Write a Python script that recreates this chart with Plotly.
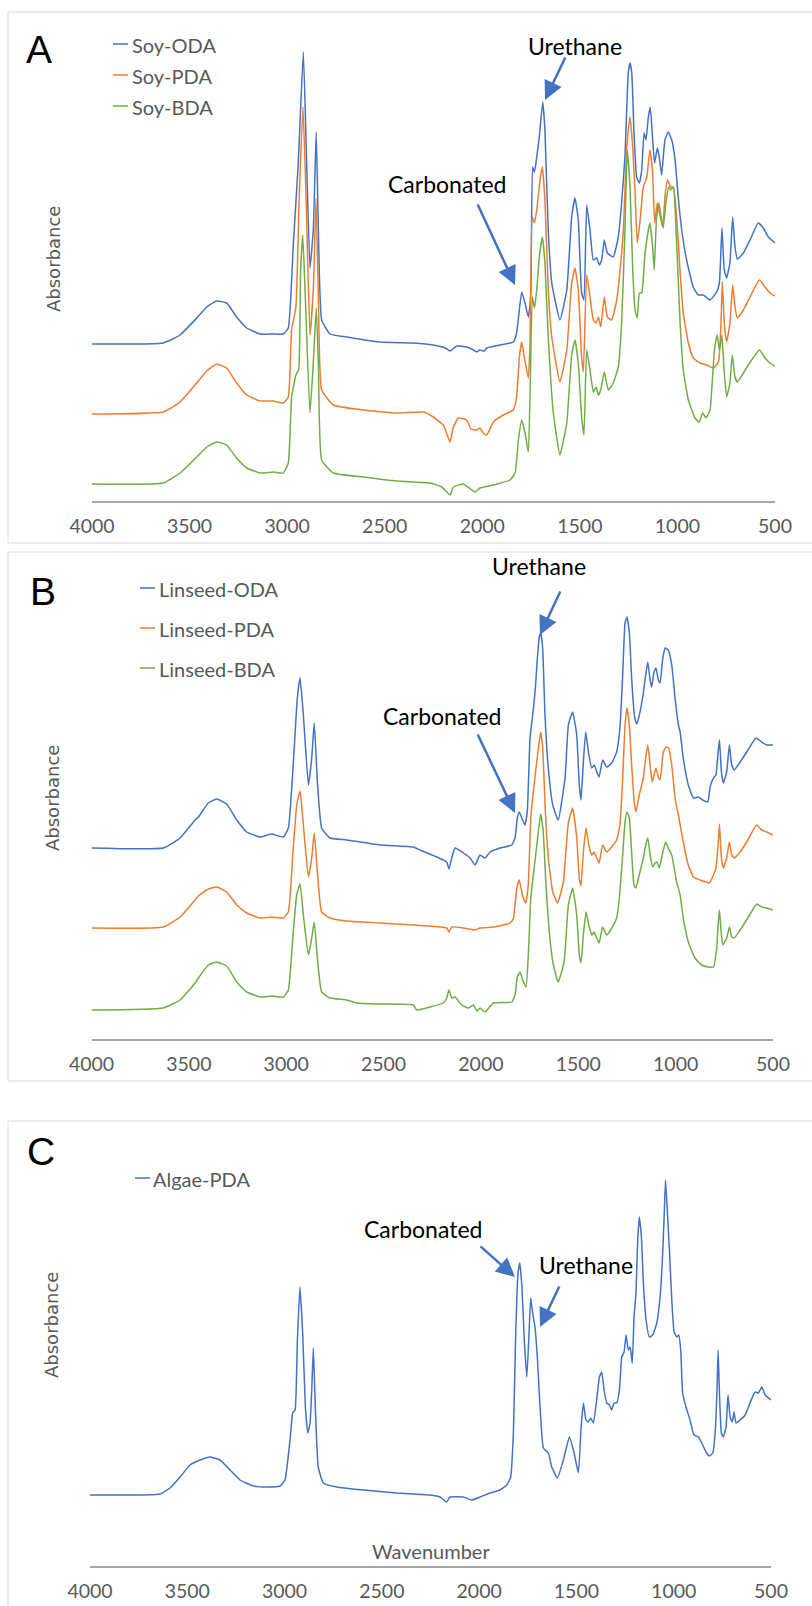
import plotly.graph_objects as go

# ---------------- data (wavenumber cm-1, absorbance in arbitrary units) -------------
SOY_ODA = [(4000,157),(3635,158),(3549,166),(3463,183),(3412,194),(3361,200),(3310,198),(3259,184),
 (3207,173),(3139,167),(3071,167),(3020,167),(2994,173),(2968,258),(2943,338),(2917,449),(2900,338),
 (2883,233),(2866,271),(2851,369),(2840,271),(2823,181),(2780,167),(2695,164),(2524,159),(2353,158),
 (2251,156),(2190,153),(2165,150),(2131,155),(2080,154),(2045,151),(2029,149),(2012,151),(1990,150),
 (1977,153),(1909,156),(1841,159),(1824,168),(1798,209),(1781,198),(1764,184),(1752,204),(1742,334),
 (1733,329),(1725,338),(1708,364),(1690,399),(1679,371),(1662,271),(1644,218),(1602,181),(1567,211),
 (1542,284),(1525,303),(1508,281),(1491,208),(1479,201),(1465,296),(1448,271),(1431,241),(1414,243),
 (1400,236),(1388,241),(1375,261),(1359,248),(1329,244),(1303,264),(1286,298),(1269,344),(1252,428),
 (1243,438),(1234,428),(1223,371),(1209,324),(1195,318),(1183,331),(1171,368),(1161,361),(1149,384),
 (1139,394),(1127,361),(1117,338),(1103,353),(1093,344),(1081,326),(1064,361),(1047,369),(1029,361),
 (1012,341),(996,304),(978,271),(953,241),(919,214),(893,206),(867,206),(833,201),(799,209),(785,218),
 (772,273),(760,231),(748,223),(731,238),(717,284),(705,254),(693,242),(662,248),(628,261),(586,278),
 (560,273),(534,264),(500,258)]

SOY_PDA = [(4000,87),(3635,89),(3549,99),(3463,118),(3412,130),(3361,137),(3310,133),(3259,118),
 (3207,106),(3139,100),(3071,100),(3020,98),(2994,104),(2977,171),(2955,194),(2938,304),(2919,394),
 (2903,304),(2883,166),(2866,211),(2852,303),(2840,204),(2823,111),(2763,96),(2610,91),(2439,88),
 (2300,89),(2251,84),(2200,76),(2165,59),(2148,74),(2123,83),(2080,81),(2058,72),(2029,71),(2012,73),
 (1995,68),(1977,66),(1943,79),(1892,86),(1841,91),(1824,104),(1810,144),(1798,159),(1785,144),
 (1764,123),(1756,154),(1744,284),(1733,278),(1721,291),(1704,321),(1692,334),(1679,301),(1662,211),
 (1644,164),(1602,119),(1567,151),(1542,218),(1525,233),(1508,211),(1491,144),(1482,129),(1465,226),
 (1448,204),(1431,181),(1417,178),(1405,184),(1393,174),(1375,204),(1359,184),(1337,181),(1311,201),
 (1294,231),(1277,271),(1260,354),(1243,384),(1229,354),(1217,308),(1206,258),(1192,279),(1175,314),
 (1157,324),(1141,351),(1127,328),(1117,278),(1103,298),(1093,289),(1076,274),(1062,308),(1050,321),
 (1035,314),(1021,314),(1004,284),(987,231),(970,188),(944,158),(919,143),(884,138),(850,136),
 (816,133),(790,139),(778,171),(770,219),(760,178),(748,159),(731,178),(717,216),(705,194),(693,183),
 (662,191),(628,204),(580,221),(551,214),(526,208),(500,205)]

SOY_BDA = [(4000,17),(3635,18),(3549,28),(3463,44),(3412,54),(3361,59),(3310,56),(3259,43),(3207,33),
 (3139,28),(3071,29),(3020,28),(2994,38),(2977,104),(2955,126),(2941,131),(2931,231),(2920,266),
 (2907,204),(2883,88),(2866,138),(2851,193),(2840,138),(2823,41),(2763,28),(2610,24),(2439,20),
 (2268,18),(2208,14),(2165,6),(2148,14),(2097,17),(2037,9),(2012,13),(1943,16),(1858,21),(1832,28),
 (1815,61),(1798,81),(1781,68),(1764,49),(1752,138),(1744,204),(1733,193),(1721,211),(1708,244),
 (1692,264),(1679,238),(1662,164),(1636,88),(1602,46),(1567,78),(1542,146),(1525,161),(1508,138),
 (1491,84),(1479,66),(1465,151),(1448,131),(1431,109),(1417,114),(1405,106),(1393,111),(1375,129),
 (1354,111),(1329,118),(1303,134),(1286,178),(1269,271),(1257,351),(1243,314),(1229,231),(1217,191),
 (1206,183),(1195,208),(1183,208),(1166,248),(1149,271),(1141,278),(1127,254),(1119,231),(1107,284),
 (1095,298),(1081,281),(1073,273),(1059,298),(1045,314),(1035,311),(1021,314),(1004,258),(987,181),
 (970,131),(944,101),(910,83),(888,79),(871,88),(854,83),(833,91),(821,121),(809,154),(796,166),
 (785,151),(778,159),(772,166),(762,134),(748,104),(731,118),(719,146),(705,124),(693,119),(662,128),
 (620,141),(580,151),(551,143),(526,138),(500,135)]

LIN_ODA = [(4000,191),(3631,191),(3545,201),(3468,219),(3451,222),(3400,236),(3357,240),(3306,235),
 (3254,219),(3203,207),(3135,202),(3075,205),(3015,202),(2989,211),(2964,274),(2943,341),(2929,361),
 (2912,324),(2886,254),(2869,281),(2856,316),(2840,257),(2818,211),(2775,201),(2689,199),(2518,194),
 (2347,192),(2313,189),(2227,182),(2176,177),(2164,170),(2150,181),(2133,191),(2090,186),(2056,181),
 (2030,174),(2005,184),(1979,181),(1953,187),(1902,191),(1842,194),(1825,201),(1813,221),(1803,227),
 (1790,221),(1774,214),(1762,227),(1748,301),(1734,324),(1722,347),(1710,381),(1700,402),(1693,406),
 (1683,391),(1671,324),(1654,271),(1631,234),(1603,219),(1568,261),(1551,314),(1529,327),(1508,304),
 (1495,254),(1486,239),(1474,277),(1462,307),(1448,287),(1431,271),(1418,274),(1405,267),(1393,262),
 (1375,279),(1354,272),(1328,276),(1303,287),(1286,311),(1272,364),(1260,416),(1250,422),(1238,407),
 (1226,361),(1212,324),(1200,315),(1183,327),(1166,346),(1154,364),(1143,377),(1131,359),(1123,352),
 (1111,367),(1101,371),(1089,359),(1080,356),(1066,381),(1053,391),(1038,389),(1020,374),(1003,341),
 (986,314),(977,307),(961,281),(935,254),(909,241),(884,242),(861,239),(835,237),(823,252),(806,261),
 (793,264),(782,287),(775,299),(765,267),(755,256),(738,267),(724,294),(712,274),(699,269),(669,277),
 (635,287),(587,301),(558,297),(532,294),(500,294)]

LIN_PDA = [(4000,111),(3631,112),(3545,122),(3468,139),(3451,143),(3400,150),(3357,152),(3306,147),
 (3254,134),(3203,126),(3135,121),(3075,122),(3015,121),(2989,127),(2964,191),(2946,234),(2929,248),
 (2912,214),(2886,162),(2869,181),(2856,206),(2840,167),(2818,127),(2775,121),(2689,118),(2518,116),
 (2347,114),(2176,111),(2164,107),(2150,112),(2090,111),(2030,109),(2005,111),(1936,112),(1850,116),
 (1833,121),(1816,151),(1803,159),(1787,144),(1770,136),(1757,154),(1744,221),(1731,247),(1717,271),
 (1703,294),(1693,307),(1683,292),(1669,227),(1654,181),(1631,147),(1606,136),(1577,157),(1551,216),
 (1529,231),(1508,201),(1495,161),(1486,153),(1474,187),(1460,211),(1446,194),(1431,184),(1419,187),
 (1405,181),(1393,176),(1375,194),(1354,187),(1328,192),(1303,199),(1286,214),(1272,261),(1260,314),
 (1250,331),(1238,314),(1226,274),(1212,236),(1204,227),(1187,244),(1166,261),(1154,281),(1143,294),
 (1131,274),(1121,257),(1111,264),(1101,271),(1089,262),(1080,259),(1063,287),(1049,292),(1036,291),
 (1020,274),(1003,241),(983,221),(961,197),(935,174),(909,162),(875,159),(844,157),(827,156),(806,164),
 (793,171),(782,194),(775,215),(765,181),(755,171),(738,181),(724,197),(712,184),(699,181),(669,187),
 (635,197),(584,214),(558,209),(532,207),(500,204)]

LIN_BDA = [(4000,29),(3631,31),(3545,39),(3468,56),(3451,61),(3400,74),(3357,77),(3306,73),(3254,57),
 (3203,47),(3135,42),(3075,43),(3015,42),(2989,49),(2964,107),(2946,144),(2929,155),(2912,124),
 (2886,84),(2869,101),(2856,117),(2840,81),(2818,47),(2775,41),(2689,39),(2638,36),(2518,35),(2347,34),
 (2330,29),(2261,32),(2193,36),(2176,41),(2164,49),(2150,41),(2133,42),(2099,34),(2065,31),(2039,34),
 (2020,28),(2005,31),(1979,27),(1936,36),(1842,37),(1825,44),(1813,62),(1799,67),(1786,59),(1768,52),
 (1755,91),(1744,141),(1731,164),(1717,187),(1703,211),(1693,225),(1680,207),(1666,154),(1649,107),
 (1628,74),(1603,57),(1573,77),(1551,134),(1529,151),(1508,124),(1495,84),(1486,76),(1474,104),
 (1460,127),(1446,114),(1431,104),(1419,107),(1405,101),(1393,96),(1375,112),(1354,104),(1328,111),
 (1303,121),(1289,141),(1272,184),(1260,217),(1250,227),(1238,221),(1226,187),(1214,154),(1204,151),
 (1187,164),(1166,181),(1154,194),(1143,201),(1131,184),(1117,172),(1106,176),(1097,177),(1084,171),
 (1066,187),(1051,197),(1038,191),(1020,184),(995,157),(977,144),(961,121),(935,97),(901,81),(867,74),
 (833,72),(806,72),(789,91),(782,114),(775,129),(768,111),(758,94),(738,101),(724,112),(712,102),
 (699,101),(669,109),(626,122),(584,135),(558,132),(532,131),(500,129)]

ALG_PDA = [(4000,71),(3640,72),(3589,78),(3537,89),(3486,101),(3435,106),(3383,109),(3332,106),
 (3280,96),(3229,86),(3161,80),(3092,79),(3023,80),(2998,86),(2972,126),(2958,153),(2946,156),
 (2934,226),(2921,279),(2907,233),(2893,159),(2881,133),(2869,143),(2859,183),(2852,218),(2842,159),
 (2827,99),(2801,83),(2732,79),(2595,76),(2424,73),(2338,72),(2252,71),(2201,69),(2167,64),(2150,69),
 (2081,69),(2038,66),(1995,69),(1944,73),(1893,76),(1858,81),(1838,89),(1824,133),(1812,233),
 (1800,293),(1791,303),(1780,279),(1768,226),(1755,189),(1745,226),(1735,268),(1725,253),(1713,239),
 (1701,209),(1687,159),(1670,118),(1644,113),(1627,99),(1598,88),(1567,106),(1536,129),(1512,113),
 (1490,93),(1476,139),(1464,163),(1451,146),(1439,144),(1427,148),(1413,143),(1396,166),(1382,189),
 (1370,194),(1358,176),(1344,163),(1331,161),(1319,156),(1307,163),(1293,163),(1279,176),(1267,209),
 (1255,214),(1245,231),(1233,216),(1224,219),(1213,203),(1204,249),(1194,273),(1185,326),(1177,349),
 (1166,329),(1156,283),(1142,246),(1125,229),(1108,231),(1087,243),(1070,269),(1056,316),(1048,356),
 (1042,386),(1033,356),(1022,316),(1010,266),(998,234),(984,229),(974,231),(964,216),(954,173),
 (937,159),(916,146),(896,131),(873,129),(856,123),(834,114),(817,110),(799,113),(786,136),(777,179),
 (772,216),(765,173),(755,133),(745,129),(731,139),(721,171),(710,149),(699,144),(690,154),(680,143),
 (659,146),(633,151),(608,163),(582,174),(565,173),(547,179),(530,171),(500,166)]

TICKS = [4000, 3500, 3000, 2500, 2000, 1500, 1000, 500]
PANEL_LABELS = ["A", "B", "C"]

# ---------------- styling --------------------------------------------------------------
W, H = 812, 1606
BLUE, ORANGE, GREEN = "#4472C4", "#ED7D31", "#70AD47"
LABEL_FONT = "Lato, Carlito, 'Open Sans', sans-serif"
GRAY_TXT = "#595959"

def fx(px):
    return px / W

def fy(py):
    return 1 - py / H

YSPAN = 475  # plot height in px, equals data range (1 unit = 1 px)

panels = [
    dict(series=[("Soy-ODA", SOY_ODA, BLUE), ("Soy-PDA", SOY_PDA, ORANGE), ("Soy-BDA", SOY_BDA, GREEN)],
         x0=92, x1=775, ybot=501, box=(12, 543), letter=(24, 49),
         leg=dict(lx0=113, lx1=128, tx=130, ys=[45, 76, 107]),
         absorb=(54, 259),
         notes=[("Urethane", 575, 46, (566, 56), (545, 100)),
                ("Carbonated", 447, 184, (477, 203), (515, 285))]),
    dict(series=[("Linseed-ODA", LIN_ODA, BLUE), ("Linseed-PDA", LIN_PDA, ORANGE), ("Linseed-BDA", LIN_BDA, GREEN)],
         x0=91.5, x1=773, ybot=1039, box=(552, 1081), letter=(28, 591),
         leg=dict(lx0=140, lx1=155, tx=157, ys=[589, 629, 669]),
         absorb=(52, 798),
         notes=[("Urethane", 539, 566, (561, 590), (540, 635)),
                ("Carbonated", 442, 716, (477, 733), (515, 813))]),
    dict(series=[("Algae-PDA", ALG_PDA, BLUE)],
         x0=90, x1=771, ybot=1566, box=(1121, 1615), letter=(25, 1151),
         leg=dict(lx0=135, lx1=150, tx=151, ys=[1179]),
         absorb=(51, 1325),
         notes=[("Carbonated", 423, 1229, (479, 1245), (515, 1277)),
                ("Urethane", 586, 1265, (560, 1285), (540, 1327))]),
]

fig = go.Figure()
annotations = []
shapes = []

for i, p in enumerate(panels):
    n = "" if i == 0 else str(i + 1)
    xa, ya = "x" + n, "y" + n
    for name, data, color in p["series"]:
        fig.add_trace(go.Scatter(
            x=[d[0] for d in data], y=[d[1] for d in data], mode="lines", name=name,
            line=dict(color=color, width=1.5, shape="spline", smoothing=0.4),
            xaxis=xa, yaxis=ya, showlegend=False, hoverinfo="skip"))
    fig.layout["xaxis" + n] = dict(
        domain=[fx(p["x0"]), fx(p["x1"])], range=[4000, 500], anchor=ya, automargin=False,
        tickmode="array", tickvals=TICKS, ticktext=[str(t) for t in TICKS],
        showline=True, linecolor="#a6a6a6", linewidth=2, showgrid=False, zeroline=False,
        ticks="", ticklabelstandoff=7,
        tickfont=dict(family=LABEL_FONT, size=19.5, color=GRAY_TXT))
    fig.layout["yaxis" + n] = dict(
        domain=[fy(p["ybot"]), fy(p["ybot"] - YSPAN)], range=[0, YSPAN], anchor=xa,
        automargin=False, visible=False, showgrid=False, zeroline=False)

    # panel frame
    shapes.append(dict(type="rect", xref="paper", yref="paper", x0=fx(8), x1=fx(W + 5),
                       y0=fy(p["box"][1]), y1=fy(p["box"][0]),
                       line=dict(color="#d9d9d9", width=1), fillcolor="rgba(0,0,0,0)", layer="below"))
    # panel letter
    annotations.append(dict(text=PANEL_LABELS[i], x=fx(p["letter"][0]), y=fy(p["letter"][1]),
                            xref="paper", yref="paper", xanchor="left", yanchor="middle",
                            showarrow=False, font=dict(family="Liberation Sans, Arial, sans-serif", size=39, color="black")))
    # legend
    for (name, data, color), yy in zip(p["series"], p["leg"]["ys"]):
        shapes.append(dict(type="line", xref="paper", yref="paper",
                           x0=fx(p["leg"]["lx0"]), x1=fx(p["leg"]["lx1"]), y0=fy(yy - 1), y1=fy(yy - 1),
                           line=dict(color=color, width=1.5)))
        annotations.append(dict(text=name, x=fx(p["leg"]["tx"]), y=fy(yy), xref="paper", yref="paper",
                                xanchor="left", yanchor="middle", showarrow=False,
                                font=dict(family=LABEL_FONT, size=20, color=GRAY_TXT)))
    # y-axis title
    annotations.append(dict(text="Absorbance", x=fx(p["absorb"][0]), y=fy(p["absorb"][1]),
                            xref="paper", yref="paper", xanchor="center", yanchor="middle",
                            textangle=-90, showarrow=False,
                            font=dict(family="DejaVu Sans, sans-serif", size=18, color=GRAY_TXT)))
    # labelled arrows
    for text, tx, ty, tail, tip in p["notes"]:
        annotations.append(dict(text=text, x=fx(tx), y=fy(ty), xref="paper", yref="paper",
                                xanchor="center", yanchor="middle", showarrow=False,
                                font=dict(family=LABEL_FONT, size=23, color="black")))
        annotations.append(dict(text="", x=fx(tip[0]), y=fy(tip[1]), xref="paper", yref="paper",
                                showarrow=True, ax=tail[0] - tip[0], ay=tail[1] - tip[1],
                                arrowhead=2, arrowsize=1.5, arrowwidth=2.5, arrowcolor=BLUE, standoff=0))

annotations.append(dict(text="Wavenumber", x=fx(431), y=fy(1551), xref="paper", yref="paper",
                        xanchor="center", yanchor="middle", showarrow=False,
                        font=dict(family=LABEL_FONT, size=20, color=GRAY_TXT)))

fig.update_layout(template="none", width=W, height=H, margin=dict(l=0, r=0, t=0, b=0, pad=0),
                  paper_bgcolor="white", plot_bgcolor="white",
                  annotations=annotations, shapes=shapes, showlegend=False)

# the page's default body margin would offset the figure; remove it
fig.write_html("out.html", config={"displayModeBar": False},
               post_script="document.body.style.margin='0';document.body.style.overflow='hidden';")
